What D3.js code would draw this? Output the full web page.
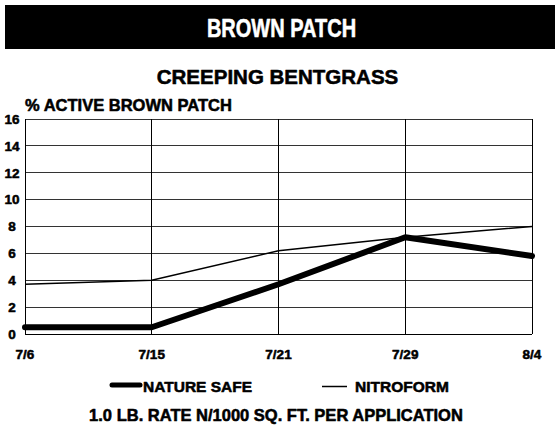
<!DOCTYPE html>
<html>
<head>
<meta charset="utf-8">
<script src="https://cdn.jsdelivr.net/npm/d3@7"></script>
<style>
  html, body { margin: 0; padding: 0; background: #fff; }
  svg { display: block; }
</style>
</head>
<body>
<svg id="chart" width="555" height="426"></svg>
<script>
// ---- data ----
const dates = ["7/6", "7/15", "7/21", "7/29", "8/4"];
const natureSafe = [0.5, 0.5, 3.7, 7.2, 5.8];
const nitroform = [3.7, 4.0, 6.2, 7.2, 8.0];
const yTicks = [0, 2, 4, 6, 8, 10, 12, 14, 16];
const seriesNames = ["NATURE SAFE", "NITROFORM"];
const bannerTitle = "BROWN PATCH";
const chartTitle = "CREEPING BENTGRASS";
const yTitle = "% ACTIVE BROWN PATCH";
const footNote = "1.0 LB. RATE N/1000 SQ. FT. PER APPLICATION";

const FONT = '"Liberation Sans", Arial, Helvetica, sans-serif';
const svg = d3.select("#chart");
const W = 555;

function txt(sel, color = "#000") {
  return sel.attr("font-family", FONT).attr("font-weight", "700")
    .style("font-family", FONT).style("font-weight", "700")
    .attr("fill", color).attr("stroke", color).attr("stroke-width", 0.55)
    .attr("stroke-linejoin", "round");
}

// banner
svg.append("rect").attr("x", 5).attr("y", 5).attr("width", W - 5).attr("height", 44).attr("fill", "#000");
txt(svg.append("text"), "#fff")
  .attr("transform", "translate(281.5,36.5) scale(0.8,1)")
  .attr("text-anchor", "middle")
  .style("font-size", "25px").text(bannerTitle);

// titles
txt(svg.append("text")).attr("x", 277.5).attr("y", 84).attr("text-anchor", "middle")
  .style("font-size", "20.5px").text(chartTitle);
txt(svg.append("text")).attr("x", 25).attr("y", 111).style("font-size", "16.5px").text(yTitle);

// scales
const x = d3.scalePoint().domain(dates).range([25, 532]);
const y = d3.scaleLinear().domain([0, 16]).range([334, 119]);

// horizontal grid
svg.append("g").selectAll("line").data(yTicks).join("line")
  .attr("x1", x.range()[0]).attr("x2", x.range()[1])
  .attr("y1", d => y(d)).attr("y2", d => y(d))
  .attr("stroke", d => d === 0 ? "#000" : "#333").attr("stroke-width", 1)
  .attr("shape-rendering", "crispEdges");

// vertical grid
svg.append("g").selectAll("line").data(dates).join("line")
  .attr("x1", d => x(d)).attr("x2", d => x(d))
  .attr("y1", y(16)).attr("y2", y(0))
  .attr("stroke", "#000").attr("stroke-width", 1)
  .attr("shape-rendering", "crispEdges");

// y axis labels
txt(svg.append("g").selectAll("text").data(yTicks).join("text"))
  .attr("x", 12).attr("y", d => y(d)).attr("dy", "0.36em")
  .attr("text-anchor", "middle").style("font-size", "13.5px").text(d => d);

// x axis labels
txt(svg.append("g").selectAll("text").data(dates).join("text"))
  .attr("x", d => x(d)).attr("y", 359)
  .attr("text-anchor", "middle").style("font-size", "13.5px").text(d => d);

// lines
const line = d3.line().x((d, i) => x(dates[i])).y(d => y(d));
svg.append("path").datum(nitroform).attr("d", line)
  .attr("fill", "none").attr("stroke", "#000").attr("stroke-width", 1.5);
svg.append("path").datum(natureSafe).attr("d", line)
  .attr("fill", "none").attr("stroke", "#000").attr("stroke-width", 6)
  .attr("stroke-linecap", "round").attr("stroke-linejoin", "round");

// legend
svg.append("line").attr("x1", 112).attr("x2", 140).attr("y1", 385).attr("y2", 385)
  .attr("stroke", "#000").attr("stroke-width", 5).attr("stroke-linecap", "round");
txt(svg.append("text")).attr("x", 143).attr("y", 392).style("font-size", "15.5px").text(seriesNames[0]);
svg.append("line").attr("x1", 322).attr("x2", 347).attr("y1", 386.5).attr("y2", 386.5)
  .attr("stroke", "#000").attr("stroke-width", 1.5);
txt(svg.append("text")).attr("x", 355).attr("y", 392).style("font-size", "15.5px").text(seriesNames[1]);

// footnote
txt(svg.append("text")).attr("x", 276).attr("y", 421).attr("text-anchor", "middle")
  .style("font-size", "16.5px").text(footNote);
</script>
</body>
</html>
